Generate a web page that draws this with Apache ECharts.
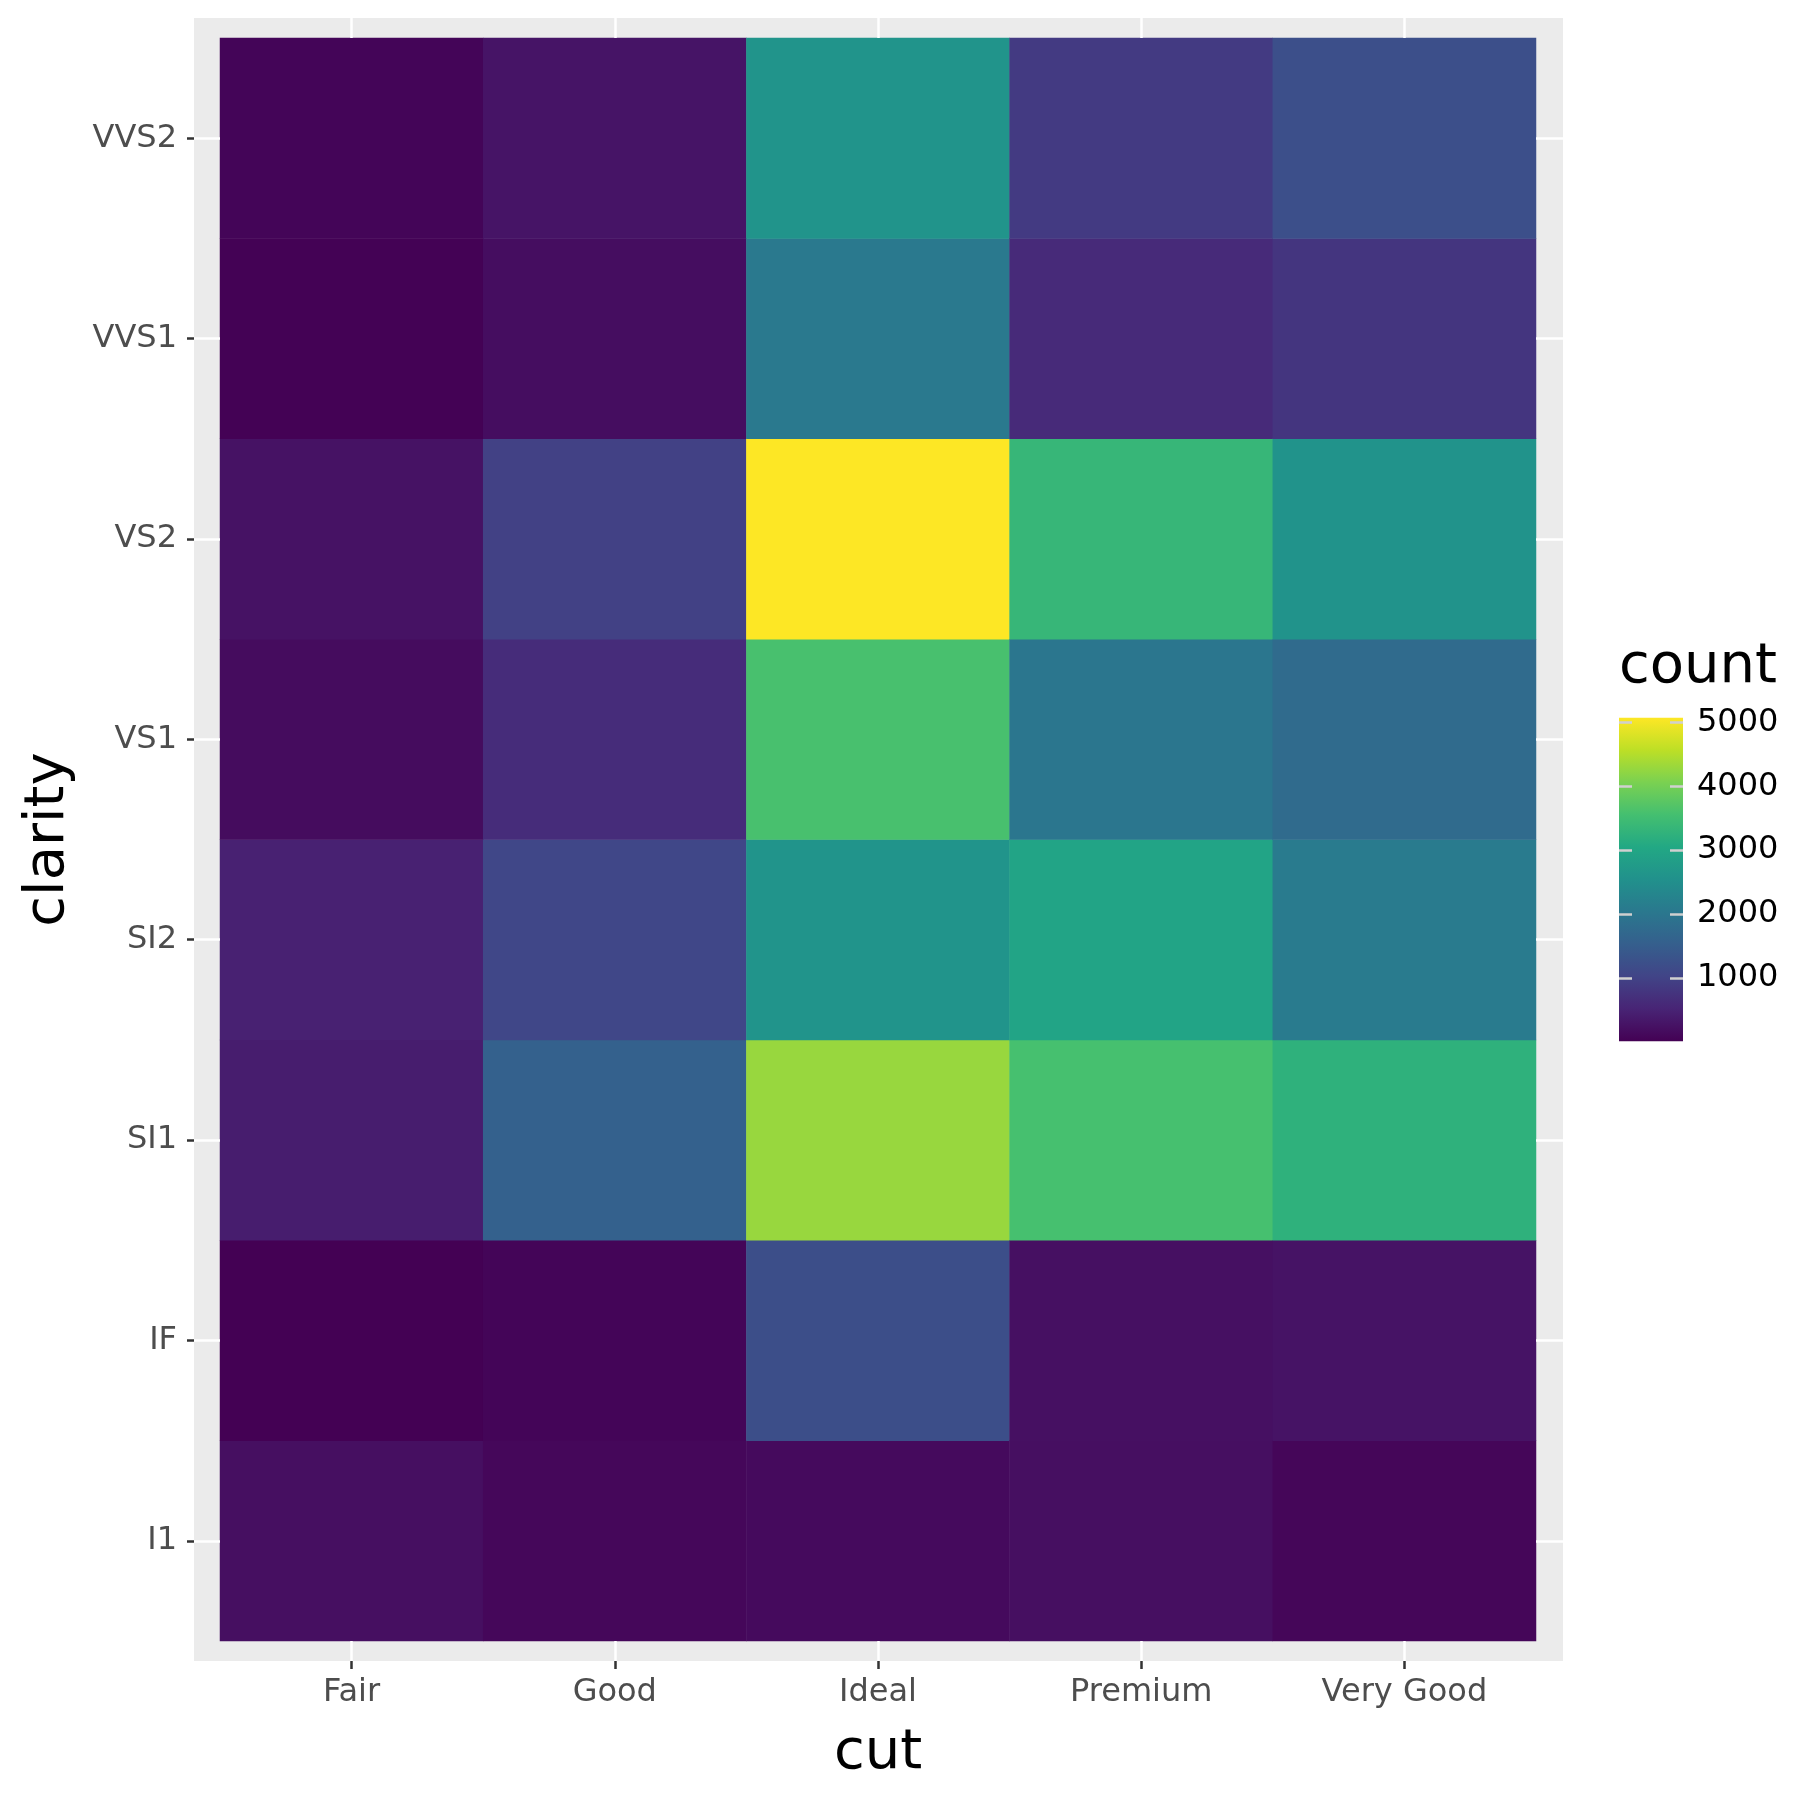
<!DOCTYPE html>
<html lang="en">
<head>
  <meta charset="UTF-8">
  <title>cut vs clarity</title>
  <script src="https://cdn.jsdelivr.net/npm/echarts@6/dist/echarts.min.js"></script>
  <style>
    html, body { margin: 0; padding: 0; background: #fff; }
    #chart { width: 1800px; height: 1800px; }
  </style>
</head>
<body>
  <div id="chart"></div>
  <script>
    // categories
    const cuts = ['Fair', 'Good', 'Ideal', 'Premium', 'Very Good'];
    const clarities = ['I1', 'IF', 'SI1', 'SI2', 'VS1', 'VS2', 'VVS1', 'VVS2'];

    // counts per cut, in clarity order
    const fairCounts = [210, 9, 408, 466, 170, 261, 17, 69];
    const goodCounts = [96, 71, 1560, 1081, 648, 978, 186, 286];
    const idealCounts = [146, 1212, 4282, 2598, 3589, 5071, 2047, 2606];
    const premiumCounts = [205, 230, 3575, 2949, 1989, 3357, 616, 870];
    const veryGoodCounts = [84, 268, 3240, 2100, 1775, 2591, 789, 1235];

    // colour bar ticks
    const legendTicks = [1000, 2000, 3000, 4000, 5000];

    const viridis = ['#440154', '#482475', '#414487', '#355f8d', '#2a788e',
      '#21918c', '#22a884', '#44bf70', '#7ad151', '#bddf26', '#fde725'];

    const rows = [fairCounts, goodCounts, idealCounts, premiumCounts, veryGoodCounts];
    const cells = [];
    rows.forEach(function (row, i) {
      row.forEach(function (v, j) {
        cells.push([i, j, v]);
      });
    });
    const all = [].concat.apply([], rows);
    const vMin = Math.min.apply(null, all);
    const vMax = Math.max.apply(null, all);

    const chart = echarts.init(document.getElementById('chart'));

    const tickText = { color: '#4D4D4D', fontSize: 32 };
    const whiteTick = { color: '#ffffff', width: 2.5 };
    const darkTick = { color: '#333333', width: 2.5 };
    const hiddenLine = { show: true, lineStyle: { opacity: 0 } };

    // colour bar geometry, so that ticks land where the reference has them
    const barPx = 0.0639;
    const barTop = 722.3 - (vMax - 5000) * barPx;
    const barHeight = (vMax - vMin) * barPx;

    // white grid line stubs in the grey margin around the tiles
    function marginAxis(data, pos, len) {
      return {
        gridIndex: 1, type: 'category', data: data, position: pos, z: 3,
        axisLine: hiddenLine, axisLabel: { show: false }, splitLine: { show: false },
        axisTick: { show: true, alignWithLabel: true, length: len, lineStyle: whiteTick }
      };
    }

    chart.setOption({
      animation: false,
      textStyle: { fontFamily: 'DejaVu Sans' },
      title: {
        text: 'count',
        left: 1614,
        top: 634,
        textStyle: { fontSize: 56, fontWeight: 'normal', color: '#000' }
      },
      grid: [
        // grey panel
        { left: 194, top: 18, width: 1369, height: 1643, show: true, backgroundColor: '#EBEBEB', borderWidth: 0 },
        // tiles
        { left: 220, top: 38, width: 1316, height: 1603 },
        // colour bar
        { left: 1619, top: barTop, width: 64, height: barHeight }
      ],
      visualMap: {
        type: 'continuous',
        show: false,
        seriesIndex: 0,
        min: vMin,
        max: vMax,
        inRange: { color: viridis }
      },
      xAxis: [
        { gridIndex: 0, type: 'value', min: 0, max: 1, show: false },
        marginAxis(cuts, 'bottom', 20),
        marginAxis(cuts, 'top', 20),
        {
          gridIndex: 1, type: 'category', data: cuts, position: 'bottom', offset: 20,
          axisLine: hiddenLine, splitLine: { show: false },
          axisTick: { show: true, alignWithLabel: true, length: 8, lineStyle: darkTick },
          axisLabel: Object.assign({ margin: 16 }, tickText),
          name: 'cut', nameLocation: 'middle', nameGap: 64,
          nameTextStyle: { fontSize: 56, color: '#000' }
        },
        { gridIndex: 2, type: 'category', data: ['bar'], show: false }
      ],
      yAxis: [
        { gridIndex: 0, type: 'value', min: 0, max: 1, show: false },
        marginAxis(clarities, 'left', 26),
        marginAxis(clarities, 'right', 27),
        {
          gridIndex: 1, type: 'category', data: clarities, position: 'left', offset: 26,
          axisLine: hiddenLine, splitLine: { show: false },
          axisTick: { show: true, alignWithLabel: true, length: 7, lineStyle: darkTick },
          axisLabel: Object.assign({ margin: 17, padding: [5, 0, 0, 0] }, tickText),
          name: 'clarity', nameLocation: 'middle', nameGap: 118,
          nameTextStyle: { fontSize: 56, color: '#000' }
        },
        {
          gridIndex: 2, type: 'value', min: vMin, max: vMax, position: 'right', z: 5,
          axisLine: hiddenLine, splitLine: { show: false },
          axisTick: { show: true, inside: true, length: 13, customValues: legendTicks, lineStyle: { color: '#d0d0d0', width: 2.5 } },
          axisLabel: {
            customValues: legendTicks, margin: 14, fontSize: 32, color: '#000',
            formatter: function (v) { return String(v); }
          }
        },
        {
          gridIndex: 2, type: 'value', min: vMin, max: vMax, position: 'left', z: 5,
          axisLine: hiddenLine, splitLine: { show: false }, axisLabel: { show: false },
          axisTick: { show: true, inside: true, length: 13, customValues: legendTicks, lineStyle: { color: '#d0d0d0', width: 2.5 } }
        }
      ],
      series: [
        {
          type: 'heatmap',
          xAxisIndex: 1,
          yAxisIndex: 1,
          data: cells,
          emphasis: { disabled: true }
        },
        {
          type: 'bar',
          xAxisIndex: 4,
          yAxisIndex: 4,
          z: 1,
          barWidth: '100%',
          data: [vMax],
          itemStyle: {
            color: new echarts.graphic.LinearGradient(0, 1, 0, 0,
              viridis.map(function (c, k) { return { offset: k / (viridis.length - 1), color: c }; }))
          }
        }
      ]
    });
  </script>
</body>
</html>
